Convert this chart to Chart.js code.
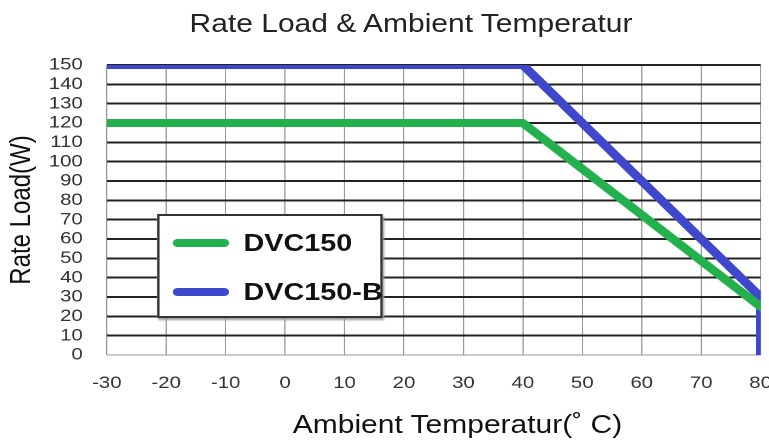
<!DOCTYPE html>
<html>
<head>
<meta charset="utf-8">
<script src="https://cdn.jsdelivr.net/npm/chart.js@4"></script>
<style>
  html, body { margin: 0; padding: 0; background: #fff; overflow: hidden; }
  #outer { width: 769px; height: 443px; overflow: hidden; }
  /* the source picture is stretched sideways, so the chart is drawn narrower and widened */
  #inner { position: relative; width: 641px; height: 443px; transform: scaleX(1.1997); transform-origin: 0 0; }
  .txt { position: absolute; font-family: 'Liberation Sans', Arial, sans-serif; font-size: 25px; line-height: 30px; white-space: nowrap; }
  #title { left: 158px; top: 8px; color: #222; }
  #xtitle { left: 244px; top: 409px; color: #111; }
  #legend {
    position: absolute; left: 131px; top: 214px; width: 184px; height: 100px;
    border: 2px solid #333; background: #fff; box-shadow: 1px 2px 2px #999;
    font-family: 'Liberation Sans', Arial, sans-serif; font-weight: bold; font-size: 24px; color: #111;
  }
  .item { position: absolute; left: 11px; height: 30px; display: flex; align-items: center; white-space: nowrap; }
  .swatch { width: 47px; height: 8px; border-radius: 4px; margin-right: 12px; flex: none; }
</style>
</head>
<body>
<div id="outer">
<div id="inner">
  <canvas id="c" width="641" height="443" style="width:641px;height:443px"></canvas>
  <div class="txt" id="title">Rate Load &amp; Ambient Temperatur</div>
  <div class="txt" id="xtitle">Ambient Temperatur(&#730; C)</div>
  <div id="legend"></div>
</div>
</div>
<script>
const temps = [-30, 40, 80];
const dvc150 = [120, 120, 25];
const tempsB = [-30, 40, 80, 80];
const dvc150b = [150, 150, 30, 0];
const seriesNames = ['DVC150', 'DVC150-B'];
const seriesColors = ['#22b14c', '#3f48cc'];

const toPoints = (xs, ys) => xs.map((x, i) => ({ x: x, y: ys[i] }));

Chart.defaults.font.family = "'Liberation Sans', Arial, sans-serif";
Chart.defaults.color = '#333';

const ctx = document.getElementById('c').getContext('2d');
const chart = new Chart(ctx, {
  type: 'scatter',
  data: {
    datasets: [
      {
        label: seriesNames[0],
        data: toPoints(temps, dvc150),
        showLine: true,
        borderColor: seriesColors[0],
        borderWidth: 8,
        pointRadius: 0,
        borderCapStyle: 'round',
        borderJoinStyle: 'round'
      },
      {
        label: seriesNames[1],
        data: toPoints(tempsB, dvc150b),
        showLine: true,
        borderColor: seriesColors[1],
        borderWidth: 8,
        pointRadius: 0,
        borderCapStyle: 'round',
        borderJoinStyle: 'round'
      }
    ]
  },
  options: {
    responsive: false,
    animation: false,
    devicePixelRatio: 2,
    layout: { padding: { right: 7, left: 0, bottom: 0, top: 65 } },
    plugins: {
      legend: { display: false },
      tooltip: { enabled: false },
      title: { display: false }
    },
    scales: {
      x: {
        type: 'linear',
        min: -30, max: 80,
        ticks: { stepSize: 10, padding: 18, color: '#333', font: { size: 17 } },
        grid: { color: '#999', lineWidth: 1, drawTicks: false },
        border: { display: false },
        afterFit: s => { s.height = 88; s.paddingLeft = 0; s.paddingRight = 0; }
      },
      y: {
        min: 0, max: 150,
        ticks: { stepSize: 10, autoSkip: false, padding: 20, color: '#333', font: { size: 17 } },
        grid: {
          drawTicks: false,
          color: c => c.tick.value === 0 ? '#999' : '#222',
          lineWidth: c => c.tick.value === 0 ? 1 : 2
        },
        border: { display: false },
        title: {
          display: true,
          text: 'Rate Load(W)',
          color: '#111',
          font: { size: 24 },
          padding: { top: 4, bottom: 4 }
        },
        afterFit: s => { s.width = 89; s.paddingTop = 0; s.paddingBottom = 0; }
      }
    }
  }
});

const legend = document.getElementById('legend');
seriesNames.forEach((name, i) => {
  const item = document.createElement('div');
  item.className = 'item';
  item.style.top = (i === 0 ? 12 : 61) + 'px';
  item.innerHTML = '<span class="swatch" style="background:' + seriesColors[i] + '"></span>' + name;
  legend.appendChild(item);
});
</script>
</body>
</html>
